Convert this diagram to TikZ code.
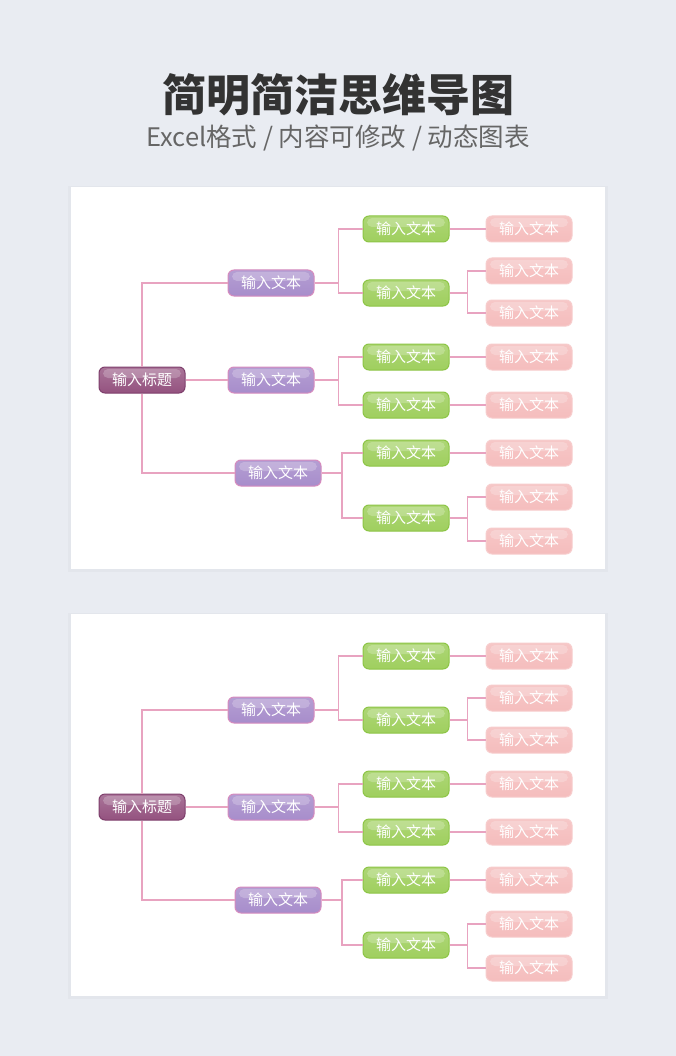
\documentclass[tikz,border=0pt]{standalone}
\usepackage{fontspec}
\newfontfamily\cjk{Noto Sans CJK SC}
\usetikzlibrary{positioning,calc}
\definecolor{bgcol}{HTML}{E9ECF2}
\definecolor{titlecol}{HTML}{333333}
\definecolor{subtitlecol}{HTML}{666666}
\definecolor{linecol}{HTML}{E8A3C0}
\definecolor{rootcol}{HTML}{94527F}
\definecolor{rootedge}{HTML}{7E3F6C}
\definecolor{subcol}{HTML}{A78DCB}
\definecolor{subedge}{HTML}{D68BBE}
\definecolor{leafcol}{HTML}{9FCF5E}
\definecolor{leafedge}{HTML}{8DC546}
\definecolor{tipcol}{HTML}{F5BDBD}
\definecolor{tipedge}{HTML}{F7CDCD}

\tikzset{
  box/.style={rounded corners=6pt, minimum width=86pt, minimum height=26pt,
    inner sep=0pt, line width=1pt, text=white,
    font=\cjk\fontsize{15}{15}\selectfont,
    path picture={\fill[white,opacity=.22,rounded corners=5pt]
      ($(path picture bounding box.north west)+(4pt,-2pt)$) rectangle
      ($(path picture bounding box.east)+(-4pt,2pt)$);}},
  rootbox/.style={box, draw=rootedge, top color=rootcol!80, bottom color=rootcol},
  subbox/.style={box, draw=subedge, top color=subcol!85, bottom color=subcol},
  leafbox/.style={box, draw=leafedge, top color=leafcol!85, bottom color=leafcol},
  tipbox/.style={box, draw=tipedge, top color=tipcol!85, bottom color=tipcol},
  link/.style={draw=linecol, line width=1.2pt},
  elbow/.style={to path={-| ($(\tikztostart)!.5!(\tikztotarget)$) |- (\tikztotarget)}}
}

\begin{document}
\begin{tikzpicture}[x=1pt, y=-1pt]
  \useasboundingbox[fill=bgcol] (0,0) rectangle (676,1056);
  % heading
  \node[font=\cjk\bfseries\fontsize{44}{44}\selectfont, text=titlecol] (title) at (338,95) {简明简洁思维导图};
  \node[font=\cjk\fontsize{25.5}{26}\selectfont, text=subtitlecol] (subtitle) at (338,138) {Excel格式 / 内容可修改 / 动态图表};

  \foreach \p/\dy in {1/0, 2/427} {
    % white card
    \fill[black, opacity=.025] (68,186+\dy) rectangle (608,572+\dy);
    \fill[white] (71,187+\dy) rectangle (605,569+\dy);

    \node[rootbox] (root\p) at (142,380+\dy) {输入标题};

    \node[subbox] (a\p) at (271,283+\dy) {输入文本};
    \node[subbox] (b\p) at (271,380+\dy) {输入文本};
    \node[subbox] (c\p) at (278,473+\dy) {输入文本};

    \node[leafbox] (g1\p) at (406,229+\dy) {输入文本};
    \node[leafbox] (g2\p) at (406,293+\dy) {输入文本};
    \node[leafbox] (g3\p) at (406,357+\dy) {输入文本};
    \node[leafbox] (g4\p) at (406,405+\dy) {输入文本};
    \node[leafbox] (g5\p) at (406,453+\dy) {输入文本};
    \node[leafbox] (g6\p) at (406,518+\dy) {输入文本};

    \node[tipbox] (t1\p) at (529,229+\dy) {输入文本};
    \node[tipbox] (t2\p) at (529,271+\dy) {输入文本};
    \node[tipbox] (t3\p) at (529,313+\dy) {输入文本};
    \node[tipbox] (t4\p) at (529,357+\dy) {输入文本};
    \node[tipbox] (t5\p) at (529,405+\dy) {输入文本};
    \node[tipbox] (t6\p) at (529,453+\dy) {输入文本};
    \node[tipbox] (t7\p) at (529,497+\dy) {输入文本};
    \node[tipbox] (t8\p) at (529,541+\dy) {输入文本};

    % branches
    \draw[link] (root\p.north) |- (a\p.west);
    \draw[link] (root\p.east) -- (b\p.west);
    \draw[link] (root\p.south) |- (c\p.west);
    \draw[link] (a\p.east) to[elbow] (g1\p.west) (a\p.east) to[elbow] (g2\p.west);
    \draw[link] (b\p.east) to[elbow] (g3\p.west) (b\p.east) to[elbow] (g4\p.west);
    \draw[link] (c\p.east) to[elbow] (g5\p.west) (c\p.east) to[elbow] (g6\p.west);
    \draw[link] (g1\p.east) -- (t1\p.west);
    \draw[link] (g2\p.east) to[elbow] (t2\p.west) (g2\p.east) to[elbow] (t3\p.west);
    \draw[link] (g3\p.east) -- (t4\p.west);
    \draw[link] (g4\p.east) -- (t5\p.west);
    \draw[link] (g5\p.east) -- (t6\p.west);
    \draw[link] (g6\p.east) to[elbow] (t7\p.west) (g6\p.east) to[elbow] (t8\p.west);
  }
\end{tikzpicture}
\end{document}
